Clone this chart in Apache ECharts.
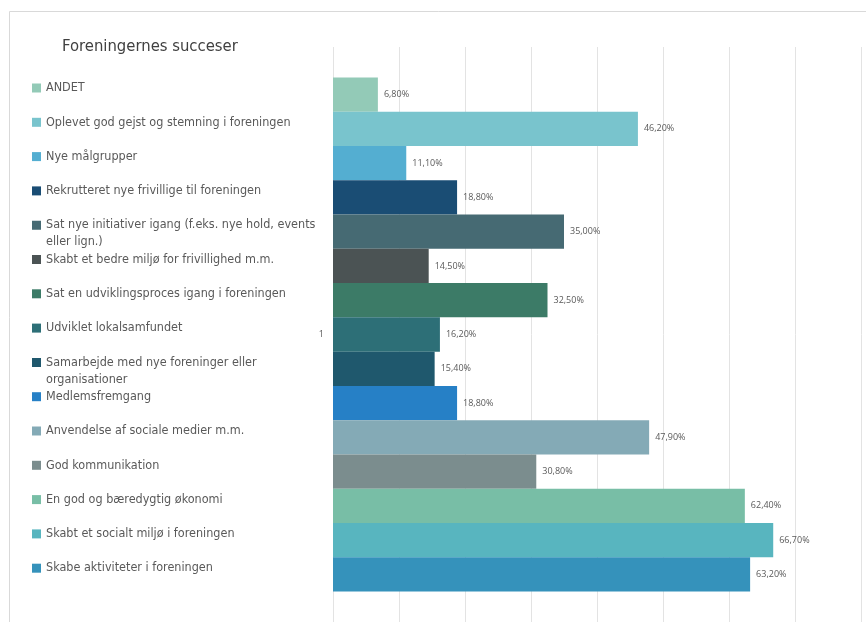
<!DOCTYPE html>
<html>
<head>
<meta charset="utf-8">
<script src="https://cdn.jsdelivr.net/npm/echarts@6/dist/echarts.min.js"></script>
<style>html,body{margin:0;padding:0;background:#fff}#c{width:866px;height:622px}</style>
</head>
<body>
<div id="c"></div>
<script>
const categories = ['1'];
const seriesNames = [
  'ANDET',
  'Oplevet god gejst og stemning i foreningen',
  'Nye målgrupper',
  'Rekrutteret nye frivillige til foreningen',
  'Sat nye initiativer igang (f.eks. nye hold, events eller lign.)',
  'Skabt et bedre miljø for frivillighed m.m.',
  'Sat en udviklingsproces igang i foreningen',
  'Udviklet lokalsamfundet',
  'Samarbejde med nye foreninger eller organisationer',
  'Medlemsfremgang',
  'Anvendelse af sociale medier m.m.',
  'God kommunikation',
  'En god og bæredygtig økonomi',
  'Skabt et socialt miljø i foreningen',
  'Skabe aktiviteter i foreningen'
];
const seriesValues = [6.8, 46.2, 11.1, 18.8, 35.0, 14.5, 32.5, 16.2, 15.4, 18.8, 47.9, 30.8, 62.4, 66.7, 63.2];
const seriesColors = ['#93cab7','#79c4cd','#54aed1','#1a4d74','#466a73','#4b5354','#3c7b67','#2d6f77','#1f586d','#2680c6','#84aab6','#7b8d8e','#78bea6','#58b5bf','#3592bb'];
const wrappedNames = {
  'Sat nye initiativer igang (f.eks. nye hold, events eller lign.)': 'Sat nye initiativer igang (f.eks. nye hold, events\neller lign.)',
  'Samarbejde med nye foreninger eller organisationer': 'Samarbejde med nye foreninger eller\norganisationer'
};
const titleText = 'Foreningernes succeser';

const narrow = "'Liberation Sans Narrow', 'Arial Narrow', 'DejaVu Sans Condensed', sans-serif";
const LH = 17;
const STEP = 34.3;
const LEG_TOP = 79.5;
const chart = echarts.init(document.getElementById('c'));
const series = seriesNames.map((n, i) => ({
  name: n,
  type: 'bar',
  data: [seriesValues[i]],
  itemStyle: { color: seriesColors[i] },
  barGap: '0%',
  barCategoryGap: '10.6%',
  label: {
    show: true, position: 'right', distance: 6,
    fontSize: 9, color: '#595959', fontFamily: "'Open Sans', sans-serif",
    formatter: p => p.value.toFixed(2).replace('.', ',') + '%'
  }
}));

// split the legend into groups so that wrapped (two-line) entries don't push later entries down
const legends = [];
let start = 0;
for (let i = 0; i <= seriesNames.length; i++) {
  const isEnd = i === seriesNames.length;
  const wrapped = !isEnd && !!wrappedNames[seriesNames[i]];
  if (isEnd || wrapped) {
    if (i > start) legends.push({ from: start, to: i, wrapped: false });
    if (wrapped) legends.push({ from: i, to: i + 1, wrapped: true });
    start = i + 1;
  }
}
const legendOpts = legends.map(g => ({
  orient: 'vertical', left: 32, top: LEG_TOP + g.from * STEP, padding: 0,
  itemWidth: 9, itemHeight: g.wrapped ? 26 : 9, itemGap: 17.3,
  icon: g.wrapped ? 'path://M0,0h9v9h-9z M0,26h9' : 'rect',
  data: seriesNames.slice(g.from, g.to),
  formatter: n => wrappedNames[n] || n,
  textStyle: { fontFamily: narrow, fontSize: 12.5, color: '#595959', lineHeight: LH }
}));

chart.setOption({
  animation: false,
  title: {
    text: titleText, left: 62, top: 38, padding: 0,
    textStyle: { fontFamily: narrow, fontSize: 16.5, fontWeight: 'normal', color: '#404040' }
  },
  graphic: [{
    type: 'rect', shape: { x: 9.5, y: 11.5, width: 1000, height: 800 },
    style: { fill: 'none', stroke: '#d9d9d9', lineWidth: 1 }, silent: true, z: -10
  }],
  legend: legendOpts,
  grid: { left: 333, top: 47, width: 528, height: 578, containLabel: false },
  xAxis: {
    type: 'value', min: 0, max: 80, interval: 10,
    axisLabel: { show: false }, axisLine: { show: false }, axisTick: { show: false },
    splitLine: { show: true, lineStyle: { color: '#e3e3e3', width: 1 } }
  },
  yAxis: {
    type: 'category', data: categories,
    axisLine: { show: false }, axisTick: { show: false },
    axisLabel: { fontSize: 9, color: '#595959', margin: 9, fontFamily: "'Open Sans', sans-serif" },
    splitLine: { show: false }
  },
  series: series
});
</script>
</body>
</html>
